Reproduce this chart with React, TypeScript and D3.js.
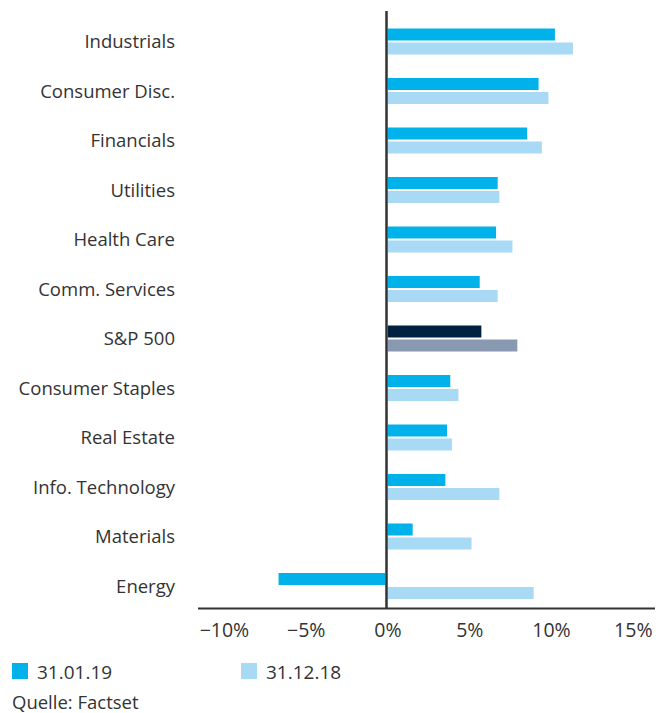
import React, { useRef, useEffect } from "react";
import * as d3 from "d3";

const sectors = [
  "Industrials",
  "Consumer Disc.",
  "Financials",
  "Utilities",
  "Health Care",
  "Comm. Services",
  "S&P 500",
  "Consumer Staples",
  "Real Estate",
  "Info. Technology",
  "Materials",
  "Energy",
];
const jan19 = [10.3, 9.3, 8.6, 6.8, 6.7, 5.7, 5.8, 3.9, 3.7, 3.6, 1.6, -6.6];
const dec18 = [11.4, 9.9, 9.5, 6.9, 7.7, 6.8, 8.0, 4.4, 4.0, 6.9, 5.2, 9.0];
const ticks = [-10, -5, 0, 5, 10, 15];
const legendLabels = ["31.01.19", "31.12.18"];

const App = () => {
  const svgRef = useRef<SVGSVGElement>(null);

  useEffect(() => {
    const width = 665;
    const height = 713;
    const font = "'Open Sans', sans-serif";
    const textColor = "#333333";

    const svg = d3.select(svgRef.current).attr("width", width).attr("height", height);
    svg.selectAll("*").remove();

    const x = d3.scaleLinear().domain([0, 15]).range([386.5, 631.8]);
    const y = d3.scaleBand().domain(sectors).range([16.25, 610.25]).padding(0);

    const barH = 12;
    const gap = 2;
    const rows = sectors.map((s, i) => ({ s, a: jan19[i], b: dec18[i] }));

    const g = svg.append("g");

    const barX = (v: number) => (v >= 0 ? x(0) + 1.2 : x(v));
    const barW = (v: number) => (v >= 0 ? x(v) - x(0) - 1.2 : x(0) - 1.2 - x(v));

    g.selectAll(".bar-a")
      .data(rows)
      .enter()
      .append("rect")
      .attr("x", (d) => barX(d.a))
      .attr("y", (d) => y(d.s)! + y.bandwidth() / 2 - barH - gap / 2 + 0.5)
      .attr("width", (d) => barW(d.a))
      .attr("height", barH)
      .attr("fill", (d) => (d.s === "S&P 500" ? "#00203f" : "#00b1ea"));

    g.selectAll(".bar-b")
      .data(rows)
      .enter()
      .append("rect")
      .attr("x", (d) => barX(d.b))
      .attr("y", (d) => y(d.s)! + y.bandwidth() / 2 + gap / 2 + 0.5)
      .attr("width", (d) => barW(d.b))
      .attr("height", barH)
      .attr("fill", (d) => (d.s === "S&P 500" ? "#8899b1" : "#a8d9f5"));

    // category labels
    g.selectAll(".cat")
      .data(sectors)
      .enter()
      .append("text")
      .attr("x", 175)
      .attr("y", (d) => y(d)! + y.bandwidth() / 2 + 1)
      .attr("dy", "0.35em")
      .attr("text-anchor", "end")
      .attr("fill", textColor)
      .style("font-family", font)
      .style("font-size", "18.5px")
      .text((d) => d);

    // axes lines
    g.append("line")
      .attr("x1", x(0))
      .attr("x2", x(0))
      .attr("y1", 11)
      .attr("y2", 609)
      .attr("stroke", "#333")
      .attr("stroke-width", 2.5);

    g.append("line")
      .attr("x1", 198)
      .attr("x2", 655)
      .attr("y1", 608.5)
      .attr("y2", 608.5)
      .attr("stroke", "#333")
      .attr("stroke-width", 2.2);

    g.selectAll(".tick")
      .data(ticks)
      .enter()
      .append("text")
      .attr("x", (d) => x(d) + 1.5)
      .attr("y", 637)
      .attr("text-anchor", "middle")
      .attr("fill", textColor)
      .style("font-family", font)
      .style("font-size", "19.5px")
      .text((d) => (d < 0 ? "\u2212" + Math.abs(d) : d) + "%");

    // legend
    const legendColors = ["#00b1ea", "#a8d9f5"];
    const lg = g
      .selectAll(".legend")
      .data(legendLabels)
      .enter()
      .append("g")
      .attr("transform", (_d, i) => `translate(${i === 0 ? 12 : 241}, 663)`);
    lg.append("rect")
      .attr("width", 16)
      .attr("height", 16)
      .attr("fill", (_d, i) => legendColors[i]);
    lg.append("text")
      .attr("x", 25)
      .attr("y", 15.5)
      .attr("fill", textColor)
      .style("font-family", font)
      .style("font-size", "19px")
      .text((d) => d);

    g.append("text")
      .attr("x", 12)
      .attr("y", 709)
      .attr("fill", textColor)
      .style("font-family", font)
      .style("font-size", "18.5px")
      .text("Quelle: Factset");
  }, []);

  return (
    <div style={{ position: "absolute", left: 0, top: 0 }}>
      <svg ref={svgRef} style={{ display: "block" }}></svg>
    </div>
  );
};

export default App;
